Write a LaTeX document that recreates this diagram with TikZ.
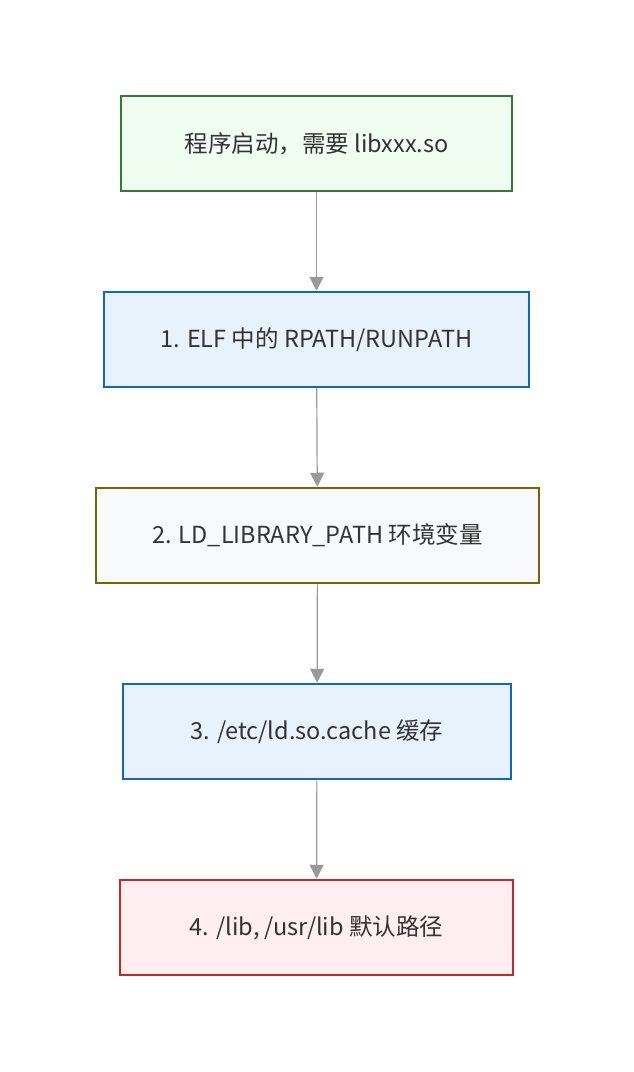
\documentclass[tikz,border=0pt]{standalone}
\usepackage{fontspec}
\setmainfont{Noto Sans CJK SC}
\usetikzlibrary{arrows.meta}
\definecolor{gborder}{HTML}{2E7D32}\definecolor{gfill}{HTML}{F0FDF0}
\definecolor{bborder}{HTML}{1565C0}\definecolor{bfill}{HTML}{E8F2FD}
\definecolor{oborder}{HTML}{7F6003}\definecolor{ofill}{HTML}{F8F9FA}
\definecolor{rborder}{HTML}{C62828}\definecolor{rfill}{HTML}{FFEEF0}
\definecolor{txt}{HTML}{333333}\definecolor{arr}{HTML}{999999}
\tikzset{
  box/.style={rectangle, draw, line width=2.5pt, inner sep=0pt, minimum height=95pt, text=txt, font=\fontsize{23.5}{27}\selectfont},
  conn/.style={draw=arr, line width=1.2pt, -{Triangle[length=14pt,width=14pt,fill=arr]}},
}
\begin{document}
\begin{tikzpicture}[x=1pt,y=-1pt]
\useasboundingbox (0,0) rectangle (634,1072);
\node[box, draw=gborder, fill=gfill, minimum width=391pt] (n0) at (316.5,143.5) {程序启动，需要 libxxx.so};
\node[box, draw=bborder, fill=bfill, minimum width=425pt] (n1) at (316.5,339.5) {1. ELF 中的 RPATH/RUNPATH};
\node[box, draw=oborder, fill=ofill, minimum width=443pt] (n2) at (317.5,535.5) {2. LD\_LIBRARY\_PATH 环境变量};
\node[box, draw=bborder, fill=bfill, minimum width=388pt] (n3) at (317,731.5) {3. /etc/ld.so.cache 缓存};
\node[box, draw=rborder, fill=rfill, minimum width=393pt] (n4) at (316.5,927.5) {4. /lib, /usr/lib 默认路径};
\draw[conn] (n0) -- (n1);
\draw[conn] (n1) -- (n2);
\draw[conn] (n2) -- (n3);
\draw[conn] (n3) -- (n4);
\end{tikzpicture}
\end{document}
